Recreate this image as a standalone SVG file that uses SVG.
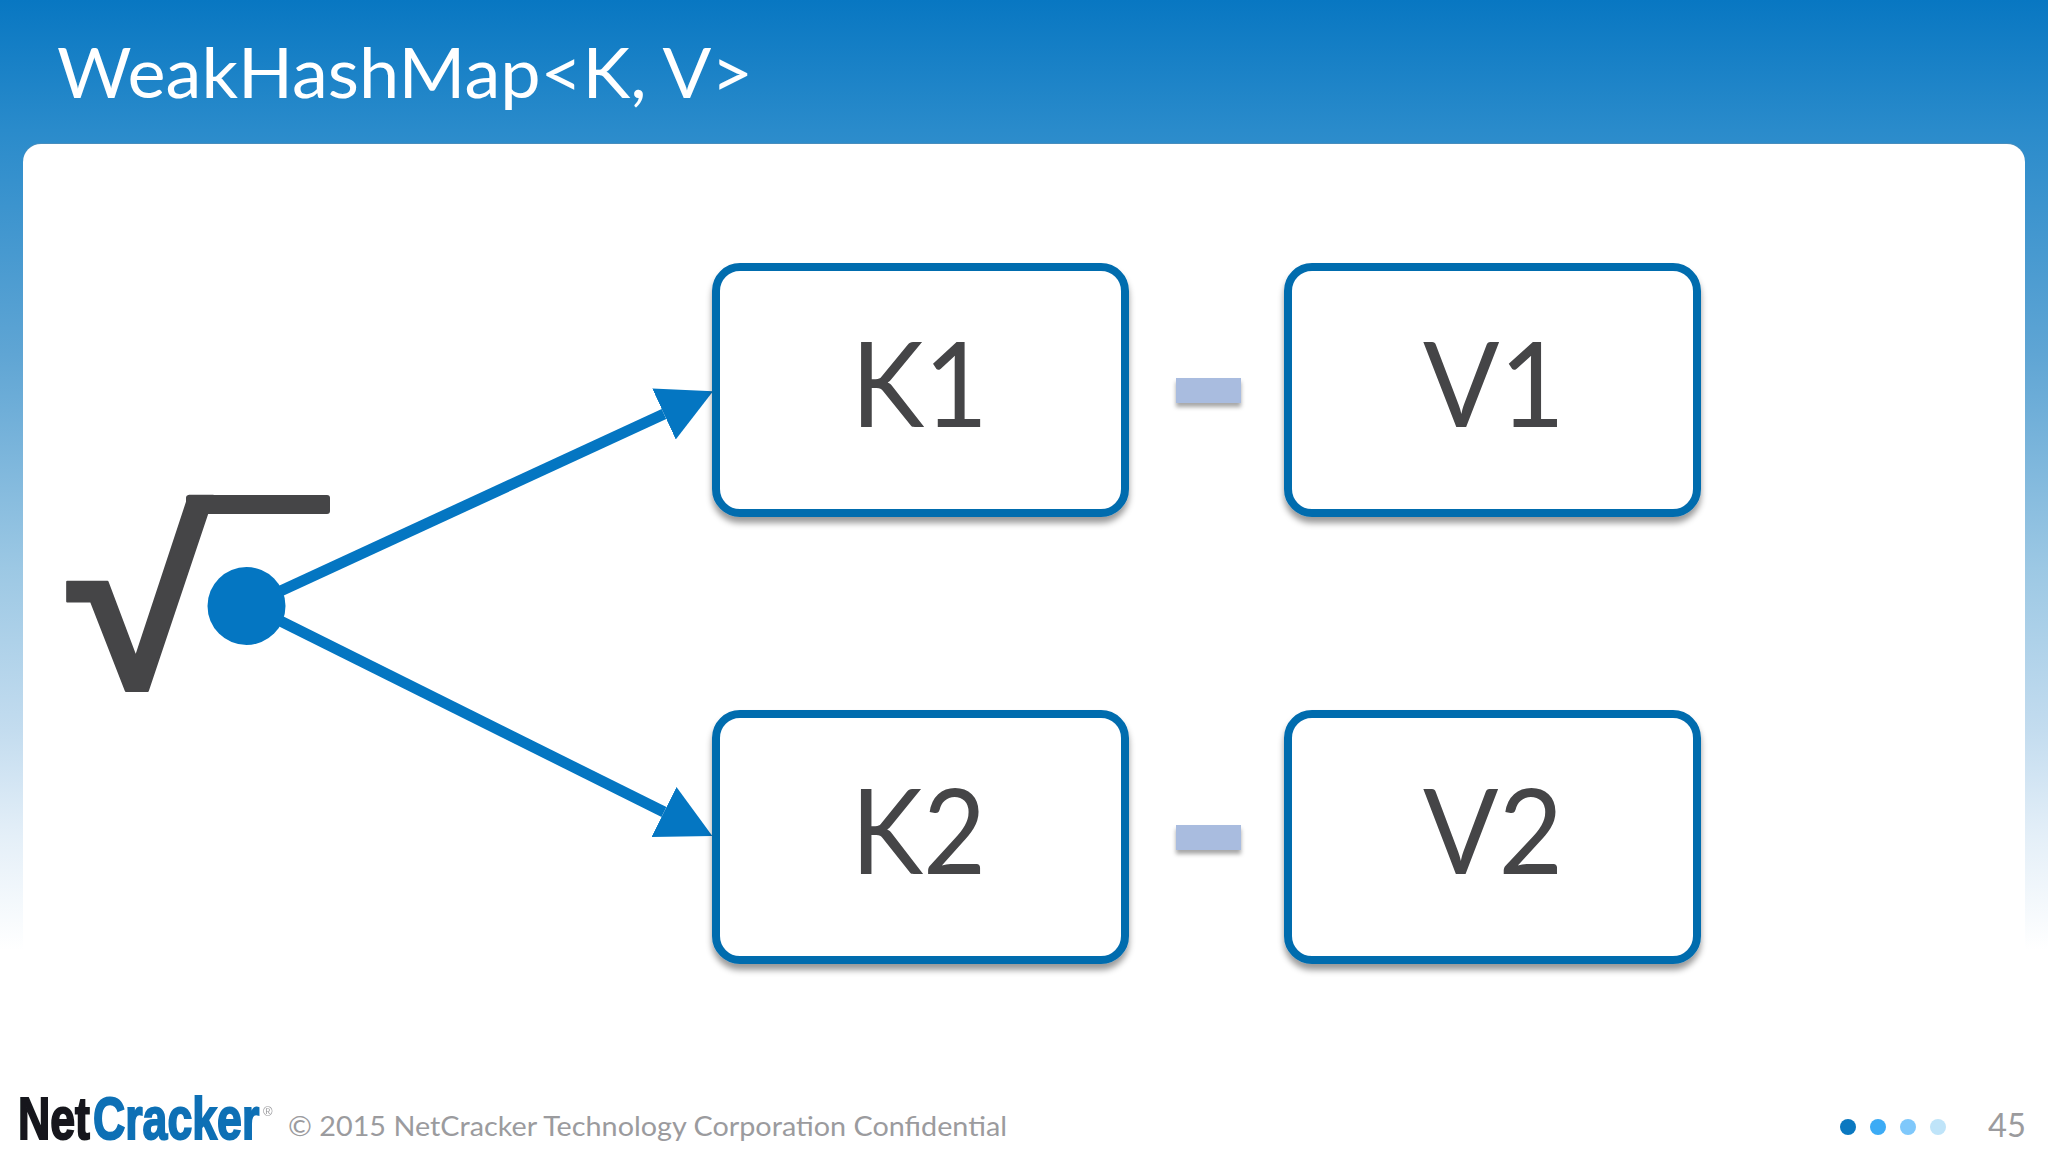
<svg xmlns="http://www.w3.org/2000/svg" width="2048" height="1152" viewBox="0 0 2048 1152">
<style>
text{font-family:Lato,"Open Sans","Liberation Sans",sans-serif}
.box{fill:#fff;stroke:#066cae;stroke-width:8;filter:url(#sh)}
.lbl{fill:#454547;font-size:118px}
.dash{fill:#a9bcdf;filter:url(#sh2)}
.conn{stroke:#0476c2;stroke-width:11;fill:none;marker-end:url(#head)}
.foot{fill:#9b9b9e}
.logo{font-family:"Liberation Sans",sans-serif;font-weight:700;font-size:60px;stroke-width:2}
</style>
<defs>
<linearGradient id="bg" x1="0" y1="0" x2="0" y2="1">
<stop offset="0" stop-color="#0877c2"/><stop offset=".137" stop-color="#2a8bcb"/><stop offset=".373" stop-color="#5fa5d4"/><stop offset=".598" stop-color="#9cc8e4"/><stop offset=".768" stop-color="#c3dcef"/><stop offset=".88" stop-color="#e4eff8"/><stop offset="1" stop-color="#fff"/>
</linearGradient>
<filter id="sh" x="-5%" y="-5%" width="110%" height="115%"><feDropShadow dx="0" dy="6" stdDeviation="3" flood-color="#000" flood-opacity=".4"/></filter>
<filter id="sh2" x="-10%" y="-20%" width="120%" height="160%"><feDropShadow dx="0" dy="4" stdDeviation="2" flood-color="#000" flood-opacity=".35"/></filter>
<filter id="soft" x="-5%" y="-5%" width="110%" height="110%"><feGaussianBlur stdDeviation=".7"/></filter>
<marker id="head" markerUnits="userSpaceOnUse" markerWidth="56" markerHeight="60" refX="0" refY="30" orient="auto" viewBox="0 0 56 60"><path d="M0,2 L54,30 L0,58Z" fill="#0476c2"/></marker>
</defs>
<rect id="background" width="2048" height="950" fill="url(#bg)"/>
<rect id="panel-edge" x="23" y="143" width="2002" height="900" rx="18" fill="#5a8fb4" opacity=".6"/>
<rect id="panel" x="23" y="144" width="2002" height="900" rx="18" fill="#fff"/>
<rect y="950" width="2048" height="202" fill="#fff"/>
<text id="title" x="57" y="98" font-size="70" fill="#fff" textLength="696" lengthAdjust="spacingAndGlyphs">WeakHashMap&lt;K, V&gt;</text>
<g id="connectors">
<line class="conn" x1="246" y1="607" x2="664" y2="414"/>
<line class="conn" x1="246" y1="604" x2="664" y2="812"/>
</g>
<g id="root">
<text transform="translate(67,688) scale(1.09,1)" font-size="243" font-weight="700" style="font-family:'Liberation Sans',sans-serif" fill="#454547" stroke="#454547" stroke-width="2" stroke-linejoin="round">√</text>
<rect x="186" y="495" width="144" height="19" rx="3" fill="#454547"/>
<circle cx="246.500" cy="606" r="39" fill="#0476c2"/>
</g>
<g id="k1"><rect class="box" x="716" y="267" width="409" height="246" rx="24"/><text class="lbl" x="851" y="427" textLength="137" lengthAdjust="spacingAndGlyphs">K1</text></g>
<g id="v1"><rect class="box" x="1288" y="267" width="409" height="246" rx="24"/><text class="lbl" x="1423" y="427" textLength="142" lengthAdjust="spacingAndGlyphs">V1</text></g>
<g id="k2"><rect class="box" x="716" y="714" width="409" height="246" rx="24"/><text class="lbl" x="851" y="874" textLength="135" lengthAdjust="spacingAndGlyphs">K2</text></g>
<g id="v2"><rect class="box" x="1288" y="714" width="409" height="246" rx="24"/><text class="lbl" x="1423" y="874" textLength="140" lengthAdjust="spacingAndGlyphs">V2</text></g>
<rect id="dash1" class="dash" x="1176" y="378" width="65" height="25"/>
<rect id="dash2" class="dash" x="1176" y="825" width="65" height="25"/>
<g id="footer">
<g id="logo" filter="url(#soft)">
<text class="logo" transform="translate(18,1139) scale(.745,1)" fill="#14181c" stroke="#14181c">Net</text>
<text class="logo" transform="translate(93,1139) scale(.744,1)" fill="#0a6fb5" stroke="#0a6fb5">Cracker</text>
<text x="263" y="1116" font-size="13" fill="#9b9b9e" style="font-family:'Liberation Sans',sans-serif">®</text>
</g>
<text class="foot" x="288" y="1136" font-size="27" textLength="719" lengthAdjust="spacingAndGlyphs">© 2015 NetCracker Technology Corporation Confidential</text>
<circle cx="1848" cy="1127" r="8" fill="#0a78c0"/><circle cx="1878" cy="1127" r="8" fill="#3cabf5"/><circle cx="1908" cy="1127" r="8" fill="#7fc8fb"/><circle cx="1938" cy="1127" r="8" fill="#bfe4f9"/>
<text class="foot" x="1988" y="1137" font-size="33" textLength="38" lengthAdjust="spacingAndGlyphs">45</text>
</g>
</svg>
